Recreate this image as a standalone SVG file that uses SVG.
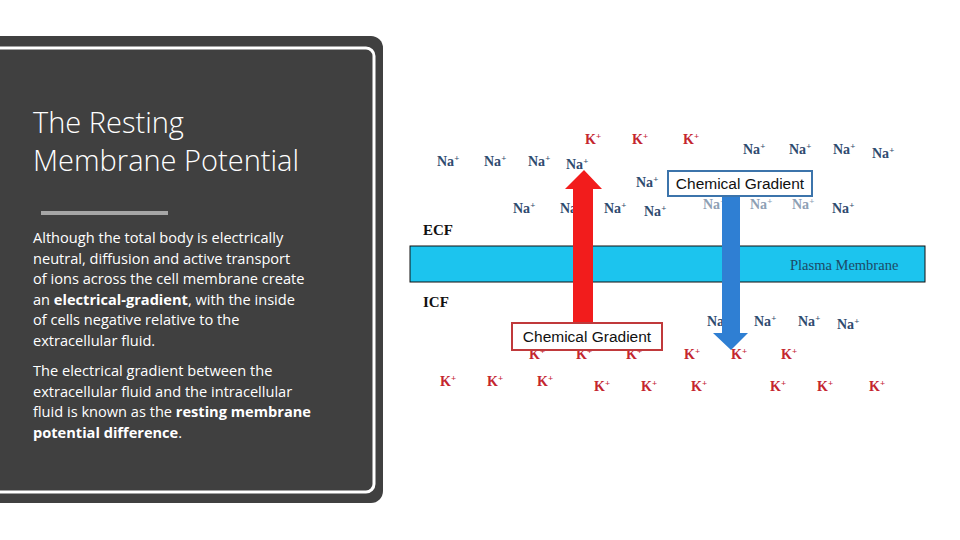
<svg xmlns="http://www.w3.org/2000/svg" width="960" height="540" viewBox="0 0 960 540">
<style>
.na{font-family:"Liberation Serif",serif;font-weight:bold;font-size:14px;fill:#2f4b6e}
.fa{fill:#8ea0b4}
.k{font-family:"Liberation Serif",serif;font-weight:bold;font-size:14px;fill:#c4262e}
.lbl{font-family:"Liberation Serif",serif;font-weight:bold;font-size:15px;fill:#111}
.sup{font-size:9px}
.body{font-family:"Open Sans","Liberation Sans",sans-serif;font-size:14.6px;fill:#fff}
.cg{font-family:"Liberation Sans",Arial,sans-serif;font-size:15.5px;fill:#111}
</style>
<rect width="960" height="540" fill="#fff"/>
<g id="panel">
<rect x="-20" y="36" width="403" height="467" rx="12" fill="#404040"/>
<rect x="-20" y="48" width="394" height="444" rx="8" fill="none" stroke="#fff" stroke-width="3"/>
<text x="33" y="133" font-family="Open Sans,Liberation Sans,sans-serif" font-weight="300" font-size="29" fill="#fff">The Resting</text>
<text x="33" y="171" font-family="Open Sans,Liberation Sans,sans-serif" font-weight="300" font-size="29" fill="#fff">Membrane Potential</text>
<rect x="41" y="211" width="127" height="4" fill="#a6a6a6"/>
<text class="body"><tspan x="33" y="243">Although the total body is electrically</tspan><tspan x="33" y="263.5">neutral, diffusion and active transport</tspan><tspan x="33" y="284">of ions across the cell membrane create</tspan><tspan x="33" y="304.5">an <tspan font-weight="bold">electrical-gradient</tspan>, with the inside</tspan><tspan x="33" y="325">of cells negative relative to the</tspan><tspan x="33" y="345.5">extracellular fluid.</tspan><tspan x="33" y="376">The electrical gradient between the</tspan><tspan x="33" y="396.5">extracellular fluid and the intracellular</tspan><tspan x="33" y="417">fluid is known as the <tspan font-weight="bold">resting membrane</tspan></tspan><tspan x="33" y="437.5" font-weight="bold">potential difference<tspan font-weight="normal">.</tspan></tspan></text>
</g>
<g id="membrane">
<rect x="410" y="246" width="515" height="36" fill="#1cc4ee" stroke="#111" stroke-width="1"/>
<text x="790" y="270" font-family="Liberation Serif,serif" font-size="14.5" fill="#1d4a66">Plasma Membrane</text>
<text class="lbl" x="423" y="235">ECF</text>
<text class="lbl" x="423" y="307">ICF</text>
</g>
<g id="ions">
<text class="na" x="437" y="166">Na<tspan class="sup" dy="-5">+</tspan></text>
<text class="na" x="484" y="166">Na<tspan class="sup" dy="-5">+</tspan></text>
<text class="na" x="528" y="166">Na<tspan class="sup" dy="-5">+</tspan></text>
<text class="na" x="566" y="169">Na<tspan class="sup" dy="-5">+</tspan></text>
<text class="k" x="585" y="144">K<tspan class="sup" dy="-5">+</tspan></text>
<text class="k" x="632" y="144">K<tspan class="sup" dy="-5">+</tspan></text>
<text class="k" x="683" y="144">K<tspan class="sup" dy="-5">+</tspan></text>
<text class="na" x="743" y="154">Na<tspan class="sup" dy="-5">+</tspan></text>
<text class="na" x="789" y="154">Na<tspan class="sup" dy="-5">+</tspan></text>
<text class="na" x="833" y="154">Na<tspan class="sup" dy="-5">+</tspan></text>
<text class="na" x="872" y="158">Na<tspan class="sup" dy="-5">+</tspan></text>
<text class="na" x="636" y="187">Na<tspan class="sup" dy="-5">+</tspan></text>
<text class="na" x="513" y="213">Na<tspan class="sup" dy="-5">+</tspan></text>
<text class="na" x="560" y="213">Na<tspan class="sup" dy="-5">+</tspan></text>
<text class="na" x="604" y="213">Na<tspan class="sup" dy="-5">+</tspan></text>
<text class="na" x="644" y="216">Na<tspan class="sup" dy="-5">+</tspan></text>
<text class="na fa" x="703" y="209">Na<tspan class="sup" dy="-5">+</tspan></text>
<text class="na fa" x="750" y="209">Na<tspan class="sup" dy="-5">+</tspan></text>
<text class="na fa" x="792" y="209">Na<tspan class="sup" dy="-5">+</tspan></text>
<text class="na" x="832" y="213">Na<tspan class="sup" dy="-5">+</tspan></text>
<text class="na" x="707" y="326">Na<tspan class="sup" dy="-5">+</tspan></text>
<text class="na" x="754" y="326">Na<tspan class="sup" dy="-5">+</tspan></text>
<text class="na" x="798" y="326">Na<tspan class="sup" dy="-5">+</tspan></text>
<text class="na" x="837" y="329">Na<tspan class="sup" dy="-5">+</tspan></text>
<text class="k" x="529" y="359">K<tspan class="sup" dy="-5">+</tspan></text>
<text class="k" x="576" y="359">K<tspan class="sup" dy="-5">+</tspan></text>
<text class="k" x="626" y="359">K<tspan class="sup" dy="-5">+</tspan></text>
<text class="k" x="684" y="359">K<tspan class="sup" dy="-5">+</tspan></text>
<text class="k" x="731" y="359">K<tspan class="sup" dy="-5">+</tspan></text>
<text class="k" x="781" y="359">K<tspan class="sup" dy="-5">+</tspan></text>
<text class="k" x="440" y="386">K<tspan class="sup" dy="-5">+</tspan></text>
<text class="k" x="487" y="386">K<tspan class="sup" dy="-5">+</tspan></text>
<text class="k" x="537" y="386">K<tspan class="sup" dy="-5">+</tspan></text>
<text class="k" x="594" y="391">K<tspan class="sup" dy="-5">+</tspan></text>
<text class="k" x="641" y="391">K<tspan class="sup" dy="-5">+</tspan></text>
<text class="k" x="691" y="391">K<tspan class="sup" dy="-5">+</tspan></text>
<text class="k" x="770" y="391">K<tspan class="sup" dy="-5">+</tspan></text>
<text class="k" x="817" y="391">K<tspan class="sup" dy="-5">+</tspan></text>
<text class="k" x="869" y="391">K<tspan class="sup" dy="-5">+</tspan></text>
</g>
<g id="connectors">
<polygon points="573,330 573,189 565,189 584,170 602,189 593,189 593,330" fill="#f21c1c"/>
<polygon points="722,192 722,333 713,333 731,350 748,333 740,333 740,192" fill="#2f7fd3"/>
</g>
<g id="box-red">
<rect x="512" y="323" width="150" height="27" fill="#fff" stroke="#c0393b" stroke-width="2"/>
<text class="cg" x="587" y="342" text-anchor="middle">Chemical Gradient</text>
</g>
<g id="box-blue">
<rect x="668" y="171" width="144" height="25" fill="#fff" stroke="#3c74ab" stroke-width="2"/>
<text class="cg" x="740" y="189" text-anchor="middle">Chemical Gradient</text>
</g>
</svg>
